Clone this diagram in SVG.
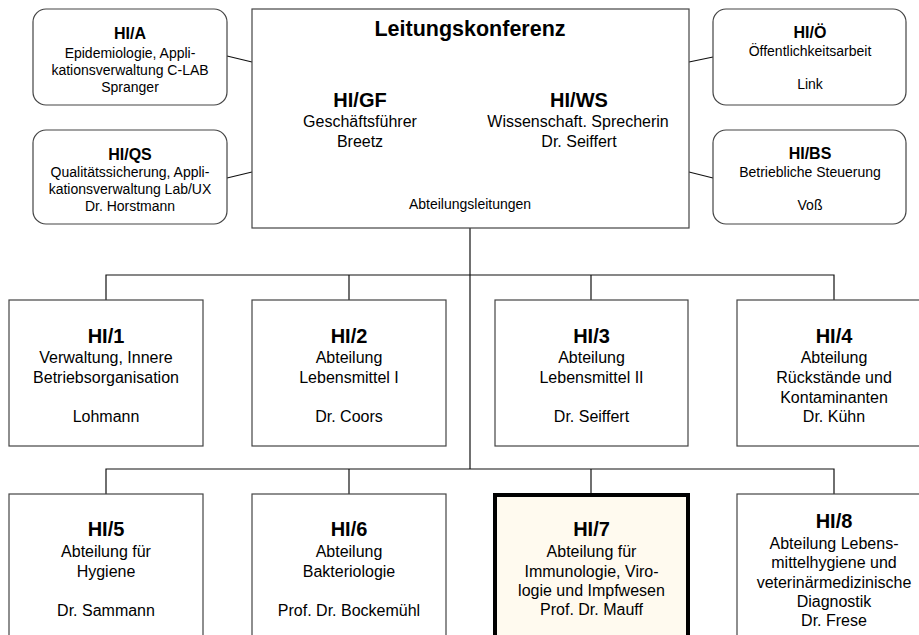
<svg xmlns="http://www.w3.org/2000/svg" width="919" height="635" viewBox="0 0 919 635">
<style>
.box{fill:#fff;stroke:#444;stroke-width:1.2}
.hl{fill:#fffaef;stroke:#000;stroke-width:4}
.ln{fill:none;stroke:#111;stroke-width:1.2}
text{font-family:"Liberation Sans",Arial,sans-serif;fill:#000;text-anchor:middle}
.t{font-weight:bold;font-size:20px}
.ts{font-weight:bold;font-size:16px}
.tl{font-weight:bold;font-size:21.5px}
.b{font-size:16px}
.s{font-size:14px}
</style>
<g id="connectors">
<line class="ln" x1="227" y1="56" x2="252" y2="62"/>
<line class="ln" x1="227" y1="178" x2="252" y2="172"/>
<line class="ln" x1="689" y1="62" x2="713" y2="57"/>
<line class="ln" x1="689" y1="172" x2="713" y2="178"/>
<line class="ln" x1="470" y1="228" x2="470" y2="469"/>
<polyline class="ln" points="106,300 106,275 834,275 834,300"/>
<line class="ln" x1="349" y1="275" x2="349" y2="300"/>
<line class="ln" x1="591" y1="275" x2="591" y2="300"/>
<polyline class="ln" points="106,494 106,469 834,469 834,494"/>
<line class="ln" x1="349" y1="469" x2="349" y2="494"/>
<line class="ln" x1="591" y1="469" x2="591" y2="494"/>
</g>
<g id="hi-a">
<rect class="box" x="33" y="9" width="194" height="96" rx="13"/>
<text class="ts" x="130" y="38.5">HI/A</text>
<text class="s" x="130" y="57.5">Epidemiologie, Appli-</text>
<text class="s" x="130" y="74.5">kationsverwaltung C-LAB</text>
<text class="s" x="130" y="91.5">Spranger</text>
</g>
<g id="hi-qs">
<rect class="box" x="33" y="130" width="194" height="94" rx="13"/>
<text class="ts" x="130" y="160">HI/QS</text>
<text class="s" x="130" y="177">Qualitätssicherung, Appli-</text>
<text class="s" x="130" y="194">kationsverwaltung Lab/UX</text>
<text class="s" x="130" y="211">Dr. Horstmann</text>
</g>
<g id="leitung">
<rect class="box" x="252" y="9" width="437" height="219"/>
<text class="tl" x="470" y="36">Leitungskonferenz</text>
<text class="t" x="360" y="106.5">HI/GF</text>
<text class="b" x="360" y="126.5">Geschäftsführer</text>
<text class="b" x="360" y="146.5">Breetz</text>
<text class="t" x="579" y="106.5">HI/WS</text>
<text class="b" x="578" y="126.5">Wissenschaft. Sprecherin</text>
<text class="b" x="579" y="146.5">Dr. Seiffert</text>
<text class="s" x="470" y="208.5">Abteilungsleitungen</text>
</g>
<g id="hi-oe">
<rect class="box" x="713" y="9" width="193" height="96" rx="13"/>
<text class="ts" x="810" y="38">HI/Ö</text>
<text class="s" x="810" y="55.5">Öffentlichkeitsarbeit</text>
<text class="s" x="810" y="89">Link</text>
</g>
<g id="hi-bs">
<rect class="box" x="713" y="130" width="193" height="94" rx="13"/>
<text class="ts" x="810" y="159">HI/BS</text>
<text class="s" x="810" y="176.5">Betriebliche Steuerung</text>
<text class="s" x="810" y="210">Voß</text>
</g>
<g id="hi-1">
<rect class="box" x="9" y="300" width="194" height="146"/>
<text class="t" x="106" y="342.7">HI/1</text>
<text class="b" x="106" y="363.3">Verwaltung, Innere</text>
<text class="b" x="106" y="382.7">Betriebsorganisation</text>
<text class="b" x="106" y="421.7">Lohmann</text>
</g>
<g id="hi-2">
<rect class="box" x="252" y="300" width="194" height="146"/>
<text class="t" x="349" y="342.7">HI/2</text>
<text class="b" x="349" y="363.3">Abteilung</text>
<text class="b" x="349" y="382.7">Lebensmittel I</text>
<text class="b" x="349" y="421.7">Dr. Coors</text>
</g>
<g id="hi-3">
<rect class="box" x="495" y="300" width="193" height="146"/>
<text class="t" x="591.5" y="342.7">HI/3</text>
<text class="b" x="591.5" y="363.3">Abteilung</text>
<text class="b" x="591.5" y="382.7">Lebensmittel II</text>
<text class="b" x="591.5" y="421.7">Dr. Seiffert</text>
</g>
<g id="hi-4">
<rect class="box" x="737" y="300" width="194" height="146"/>
<text class="t" x="834" y="342.7">HI/4</text>
<text class="b" x="834" y="363.3">Abteilung</text>
<text class="b" x="834" y="382.7">Rückstände und</text>
<text class="b" x="834" y="402.5">Kontaminanten</text>
<text class="b" x="834" y="421.7">Dr. Kühn</text>
</g>
<g id="hi-5">
<rect class="box" x="9" y="494" width="194" height="160"/>
<text class="t" x="106" y="536">HI/5</text>
<text class="b" x="106" y="556.7">Abteilung für</text>
<text class="b" x="106" y="576.5">Hygiene</text>
<text class="b" x="106" y="616">Dr. Sammann</text>
</g>
<g id="hi-6">
<rect class="box" x="252" y="494" width="194" height="160"/>
<text class="t" x="349" y="536">HI/6</text>
<text class="b" x="349" y="556.7">Abteilung</text>
<text class="b" x="349" y="576.5">Bakteriologie</text>
<text class="b" x="349" y="616">Prof. Dr. Bockemühl</text>
</g>
<g id="hi-7">
<rect class="hl" x="495" y="495" width="193" height="160"/>
<text class="t" x="591.5" y="536">HI/7</text>
<text class="b" x="591.5" y="556.7">Abteilung für</text>
<text class="b" x="591.5" y="576.5">Immunologie, Viro-</text>
<text class="b" x="591.5" y="596">logie und Impfwesen</text>
<text class="b" x="591.5" y="615">Prof. Dr. Mauff</text>
</g>
<g id="hi-8">
<rect class="box" x="737" y="494" width="194" height="160"/>
<text class="t" x="834" y="527.5">HI/8</text>
<text class="b" x="834" y="548.5">Abteilung Lebens-</text>
<text class="b" x="834" y="568">mittelhygiene und</text>
<text class="b" x="834" y="587.5">veterinärmedizinische</text>
<text class="b" x="834" y="607">Diagnostik</text>
<text class="b" x="834" y="626">Dr. Frese</text>
</g>
</svg>
